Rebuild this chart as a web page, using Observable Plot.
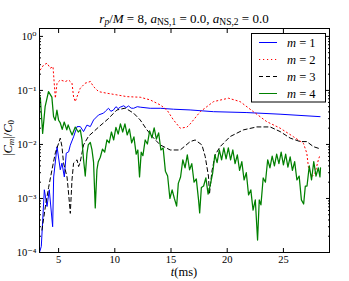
<!DOCTYPE html>
<html><head><meta charset="utf-8">
<script src="https://cdn.jsdelivr.net/npm/d3@7"></script>
<script src="https://cdn.jsdelivr.net/npm/@observablehq/plot@0.6"></script>
<style>body{margin:0;background:#fff}</style>
</head><body><div id="chart"></div>
<script>
// m = 1 (blue, solid)
const t1 = [3.3,3.46,3.73,3.97,4.17,4.47,4.56,4.86,5.15,5.30,5.51,5.68,5.89,6.04,6.33,6.64,6.93,7.22,7.52,7.82,8.11,8.56,9.0,9.2,9.44,9.65,9.89,10.1,10.3,10.48,10.8,11.0,11.22,11.45,11.67,12.0,12.26,13.15,14.04,15.22,16.7,18.78,21.75,24.7,28.26];
const c1 = [0.0001,0.00013,0.00145,0.00071,0.00145,0.0003,0.0025,0.0091,0.0034,0.0045,0.0025,0.0069,0.0073,0.0097,0.0138,0.0214,0.0214,0.0173,0.0228,0.0214,0.0284,0.0352,0.038,0.042,0.0467,0.041,0.0435,0.05,0.046,0.049,0.052,0.048,0.0516,0.047,0.0467,0.05,0.049,0.0467,0.0467,0.0449,0.0435,0.0404,0.0389,0.0363,0.0327];
// m = 2 (red, dotted)
const t2 = [3.37,3.67,3.97,4.26,4.50,4.71,4.86,5.15,5.60,5.89,6.19,6.33,6.48,6.64,6.93,7.37,7.82,8.11,8.56,9.30,10.19,11.08,12.26,13.15,14.04,14.64,15.22,15.82,16.41,16.71,17.6,18.78,20.11,21.15,22.33,23.52,24.71,25.89,26.78,27.08,27.22,27.52,27.82,28.11,28.2];
const c2 = [0.24,0.296,0.319,0.258,0.276,0.0718,0.136,0.156,0.146,0.156,0.136,0.0767,0.062,0.0767,0.11,0.136,0.146,0.1175,0.095,0.0887,0.0826,0.0767,0.0748,0.0667,0.0539,0.0435,0.0284,0.02,0.0209,0.024,0.0404,0.062,0.0718,0.062,0.0404,0.0264,0.02,0.0139,0.0105,0.0069,0.0039,0.0025,0.003,0.0052,0.0059];
// m = 3 (black, dashed)
const t3 = [3.52,3.82,4.11,4.41,4.71,5.0,5.15,5.3,5.44,5.75,5.9,6.04,6.19,6.33,6.64,6.78,6.93,7.22,7.67,8.11,8.56,9.3,10.19,10.93,11.67,12.26,12.86,13.44,14.04,14.93,15.82,16.71,17.15,17.75,18.04,18.33,18.42,18.64,18.93,19.37,20.26,21.44,22.64,23.82,24.71,25.6,26.49,27.08,27.67,28.11];
const c3 = [0.00026,0.0007,0.0016,0.0034,0.007,0.0105,0.0131,0.0091,0.0045,0.0025,0.00116,0.00053,0.0022,0.0045,0.0052,0.0039,0.0048,0.0098,0.0143,0.0172,0.021,0.0284,0.0435,0.047,0.038,0.0284,0.0186,0.0132,0.0098,0.0079,0.0079,0.0113,0.0121,0.0098,0.006,0.0026,0.0012,0.0032,0.0064,0.0091,0.014,0.0186,0.0211,0.0211,0.0173,0.0131,0.0113,0.0113,0.0091,0.0085];
// m = 4 (green, solid)
const t4 = [3.37,3.58,3.8,4.1,4.4,4.55,4.7,4.85,5.0,5.15,5.32,5.5,5.73,5.85,6.04,6.2,6.48,6.75,6.93,7.08,7.22,7.37,7.52,7.64,7.82,7.97,8.11,8.26,8.41,8.53,8.71,
  8.9,9.1,9.3,9.5,9.7,9.9,10.1,10.3,10.5,10.7,10.9,11.1,11.3,11.5,11.7,11.9,12.05,12.2,12.35,12.5,12.7,12.9,13.1,13.3,13.5,13.7,13.9,14.1,14.3,14.5,14.7,14.9,15.1,15.3,15.5,15.65,15.85,16.05,16.25,16.45,16.65,16.85,17.05,17.25,17.45,17.55,17.7,17.9,18.1,18.3,18.5,18.7,18.9,19.1,19.3,19.5,19.7,19.9,20.1,20.3,20.5,20.7,20.9,21.1,21.3,21.5,21.7,21.9,22.1,22.3,22.5,22.7,22.85,23.0,23.2,23.4,23.6,23.8,24.0,24.2,24.4,24.6,24.8,25.0,25.2,25.4,25.6,25.8,26.0,26.2,26.4,26.6,26.8,26.95,27.1,27.3,27.5,27.7,27.9,28.1,28.25,28.3];
const c4 = [0.075,0.016,0.05,0.095,0.075,0.033,0.028,0.043,0.028,0.025,0.019,0.026,0.0186,0.023,0.018,0.015,0.021,0.017,0.0186,0.0121,0.0052,0.0026,0.0068,0.0098,0.0109,0.0079,0.0047,0.00067,0.0034,0.0048,0.0058,
  0.0082,0.0072,0.0121,0.0107,0.017,0.0121,0.0207,0.0156,0.024,0.017,0.024,0.015,0.0193,0.0107,0.0138,0.0066,0.0079,0.0025,0.0072,0.0062,0.0121,0.0102,0.0178,0.0132,0.0203,0.0126,0.0164,0.0079,0.0086,0.0032,0.0026,0.001,0.00144,0.001,0.00072,0.0019,0.0025,0.0052,0.0037,0.0064,0.0034,0.0044,0.002,0.0023,0.00094,0.00054,0.0016,0.0017,0.0024,0.0012,0.0018,0.0029,0.0064,0.0046,0.0079,0.0052,0.0086,0.0054,0.0086,0.0052,0.0079,0.0044,0.0064,0.0033,0.0048,0.0022,0.003,0.00116,0.00144,0.00061,0.00094,0.00017,0.00094,0.00076,0.0024,0.002,0.0052,0.0037,0.0061,0.004,0.0066,0.0044,0.0072,0.0042,0.0066,0.0038,0.0059,0.0033,0.0048,0.0022,0.0026,0.00094,0.00079,0.0017,0.0017,0.004,0.0022,0.0048,0.0026,0.0037,0.0025,0.0037];

const xTicks = [5, 10, 15, 20, 25];
const yMajor = [1e-4, 1e-3, 1e-2, 1e-1, 1];
const yLabels = ["10⁻⁴", "10⁻³", "10⁻²", "10⁻¹", "10⁰"];
const yMinor = [];
for (const d of [1e-4, 1e-3, 1e-2, 1e-1]) for (const k of [2,3,4,5,6,7,8,9]) yMinor.push(+(d*k).toPrecision(3));
const legendLabels = ["1", "2", "3", "4"];
const colors = ["#0000ff", "#ff0000", "#000000", "#008000"];
const dashes = [null, "1.2,2.8", "4,3", null];
const widths = [1, 1, 1, 1.25];

const toRows = (t, c) => t.map((x, i) => ({t: x, v: c[i]}));
const series = [toRows(t1,c1), toRows(t2,c2), toRows(t3,c3), toRows(t4,c4)];

const font = "'Liberation Serif', 'DejaVu Serif', serif";
const plot = Plot.plot({
  width: 349, height: 281,
  marginLeft: 39, marginRight: 20, marginTop: 28, marginBottom: 29,
  x: {domain: [3.3, 29.1]},
  y: {type: "log", domain: [1e-4, 1.4]},
  style: {fontFamily: font, fontSize: "10px", background: "white", color: "black"},
  marks: [
    ...series.map((d, i) => Plot.line(d, {x: "t", y: "v", stroke: colors[i], strokeWidth: widths[i], strokeDasharray: dashes[i]})),
    Plot.frame({stroke: "black", strokeWidth: 1}),
    Plot.axisX({ticks: xTicks, anchor: "bottom", tickSize: -4, tickFormat: () => "", label: null}),
    Plot.axisX({ticks: xTicks, anchor: "top", tickSize: -4, tickFormat: () => "", label: null}),
    Plot.axisX({ticks: xTicks, anchor: "bottom", tickSize: 0, tickPadding: 3, label: null, fontSize: 10.5}),
    Plot.axisY({ticks: yMajor, anchor: "left", tickSize: -4, tickFormat: () => "", label: null}),
    Plot.axisY({ticks: yMajor, anchor: "right", tickSize: -4, tickFormat: () => "", label: null}),
    Plot.axisY({ticks: yMinor, anchor: "left", tickSize: -2, tickFormat: () => "", label: null}),
    Plot.axisY({ticks: yMinor, anchor: "right", tickSize: -2, tickFormat: () => "", label: null}),
    Plot.axisY({ticks: yMajor, anchor: "left", tickSize: 0, tickPadding: 3, label: null, fontSize: 10.5, tickFormat: (d) => yLabels[yMajor.indexOf(d)]})
  ]
});
document.getElementById("chart").append(plot);

const svg = d3.select(plot);
// title
const title = svg.append("text").attr("x", 184).attr("y", 23).attr("text-anchor", "middle")
  .style("font-family", font).style("font-size", "13px");
title.append("tspan").attr("font-style", "italic").text("r");
title.append("tspan").attr("font-style", "italic").attr("font-size", "9.5px").attr("dy", 2).text("p");
title.append("tspan").attr("dy", -2).text("/");
title.append("tspan").attr("font-style", "italic").text("M");
title.append("tspan").text(" = 8, ");
title.append("tspan").attr("font-style", "italic").text("a");
title.append("tspan").attr("font-size", "9.5px").attr("dy", 2).text("NS,1");
title.append("tspan").attr("dy", -2).text(" = 0.0, ");
title.append("tspan").attr("font-style", "italic").text("a");
title.append("tspan").attr("font-size", "9.5px").attr("dy", 2).text("NS,2");
title.append("tspan").attr("dy", -2).text(" = 0.0");

// x label
const xl = svg.append("text").attr("x", 184).attr("y", 276).attr("text-anchor", "middle")
  .style("font-family", font).style("font-size", "12.5px");
xl.append("tspan").attr("font-style", "italic").text("t");
xl.append("tspan").text("(ms)");

// y label
const yl = svg.append("text").attr("transform", "translate(12,138) rotate(-90)").attr("text-anchor", "middle")
  .style("font-family", font).style("font-size", "12.5px");
yl.append("tspan").text("|");
yl.append("tspan").attr("font-style", "italic").text("C");
yl.append("tspan").attr("font-style", "italic").attr("font-size", "9px").attr("dy", 2).text("m");
yl.append("tspan").attr("dy", -2).text("|/");
yl.append("tspan").attr("font-style", "italic").text("C");
yl.append("tspan").attr("font-size", "9px").attr("dy", 2).text("0");

// legend
const lg = svg.append("g");
lg.append("rect").attr("x", 251.5).attr("y", 33.5).attr("width", 74).attr("height", 68.5)
  .attr("fill", "white").attr("stroke", "black").attr("stroke-width", 1);
legendLabels.forEach((lab, i) => {
  const y = 42.5 + i * 17;
  lg.append("line").attr("x1", 259).attr("x2", 277).attr("y1", y).attr("y2", y)
    .attr("stroke", colors[i]).attr("stroke-width", 1).attr("stroke-dasharray", dashes[i]);
  const tx = lg.append("text").attr("x", 287).attr("y", y + 4).attr("text-anchor", "start")
    .style("font-family", font).style("font-size", "12.5px");
  tx.append("tspan").attr("font-style", "italic").text("m");
  tx.append("tspan").text(" = " + lab);
});
</script>
</body></html>
